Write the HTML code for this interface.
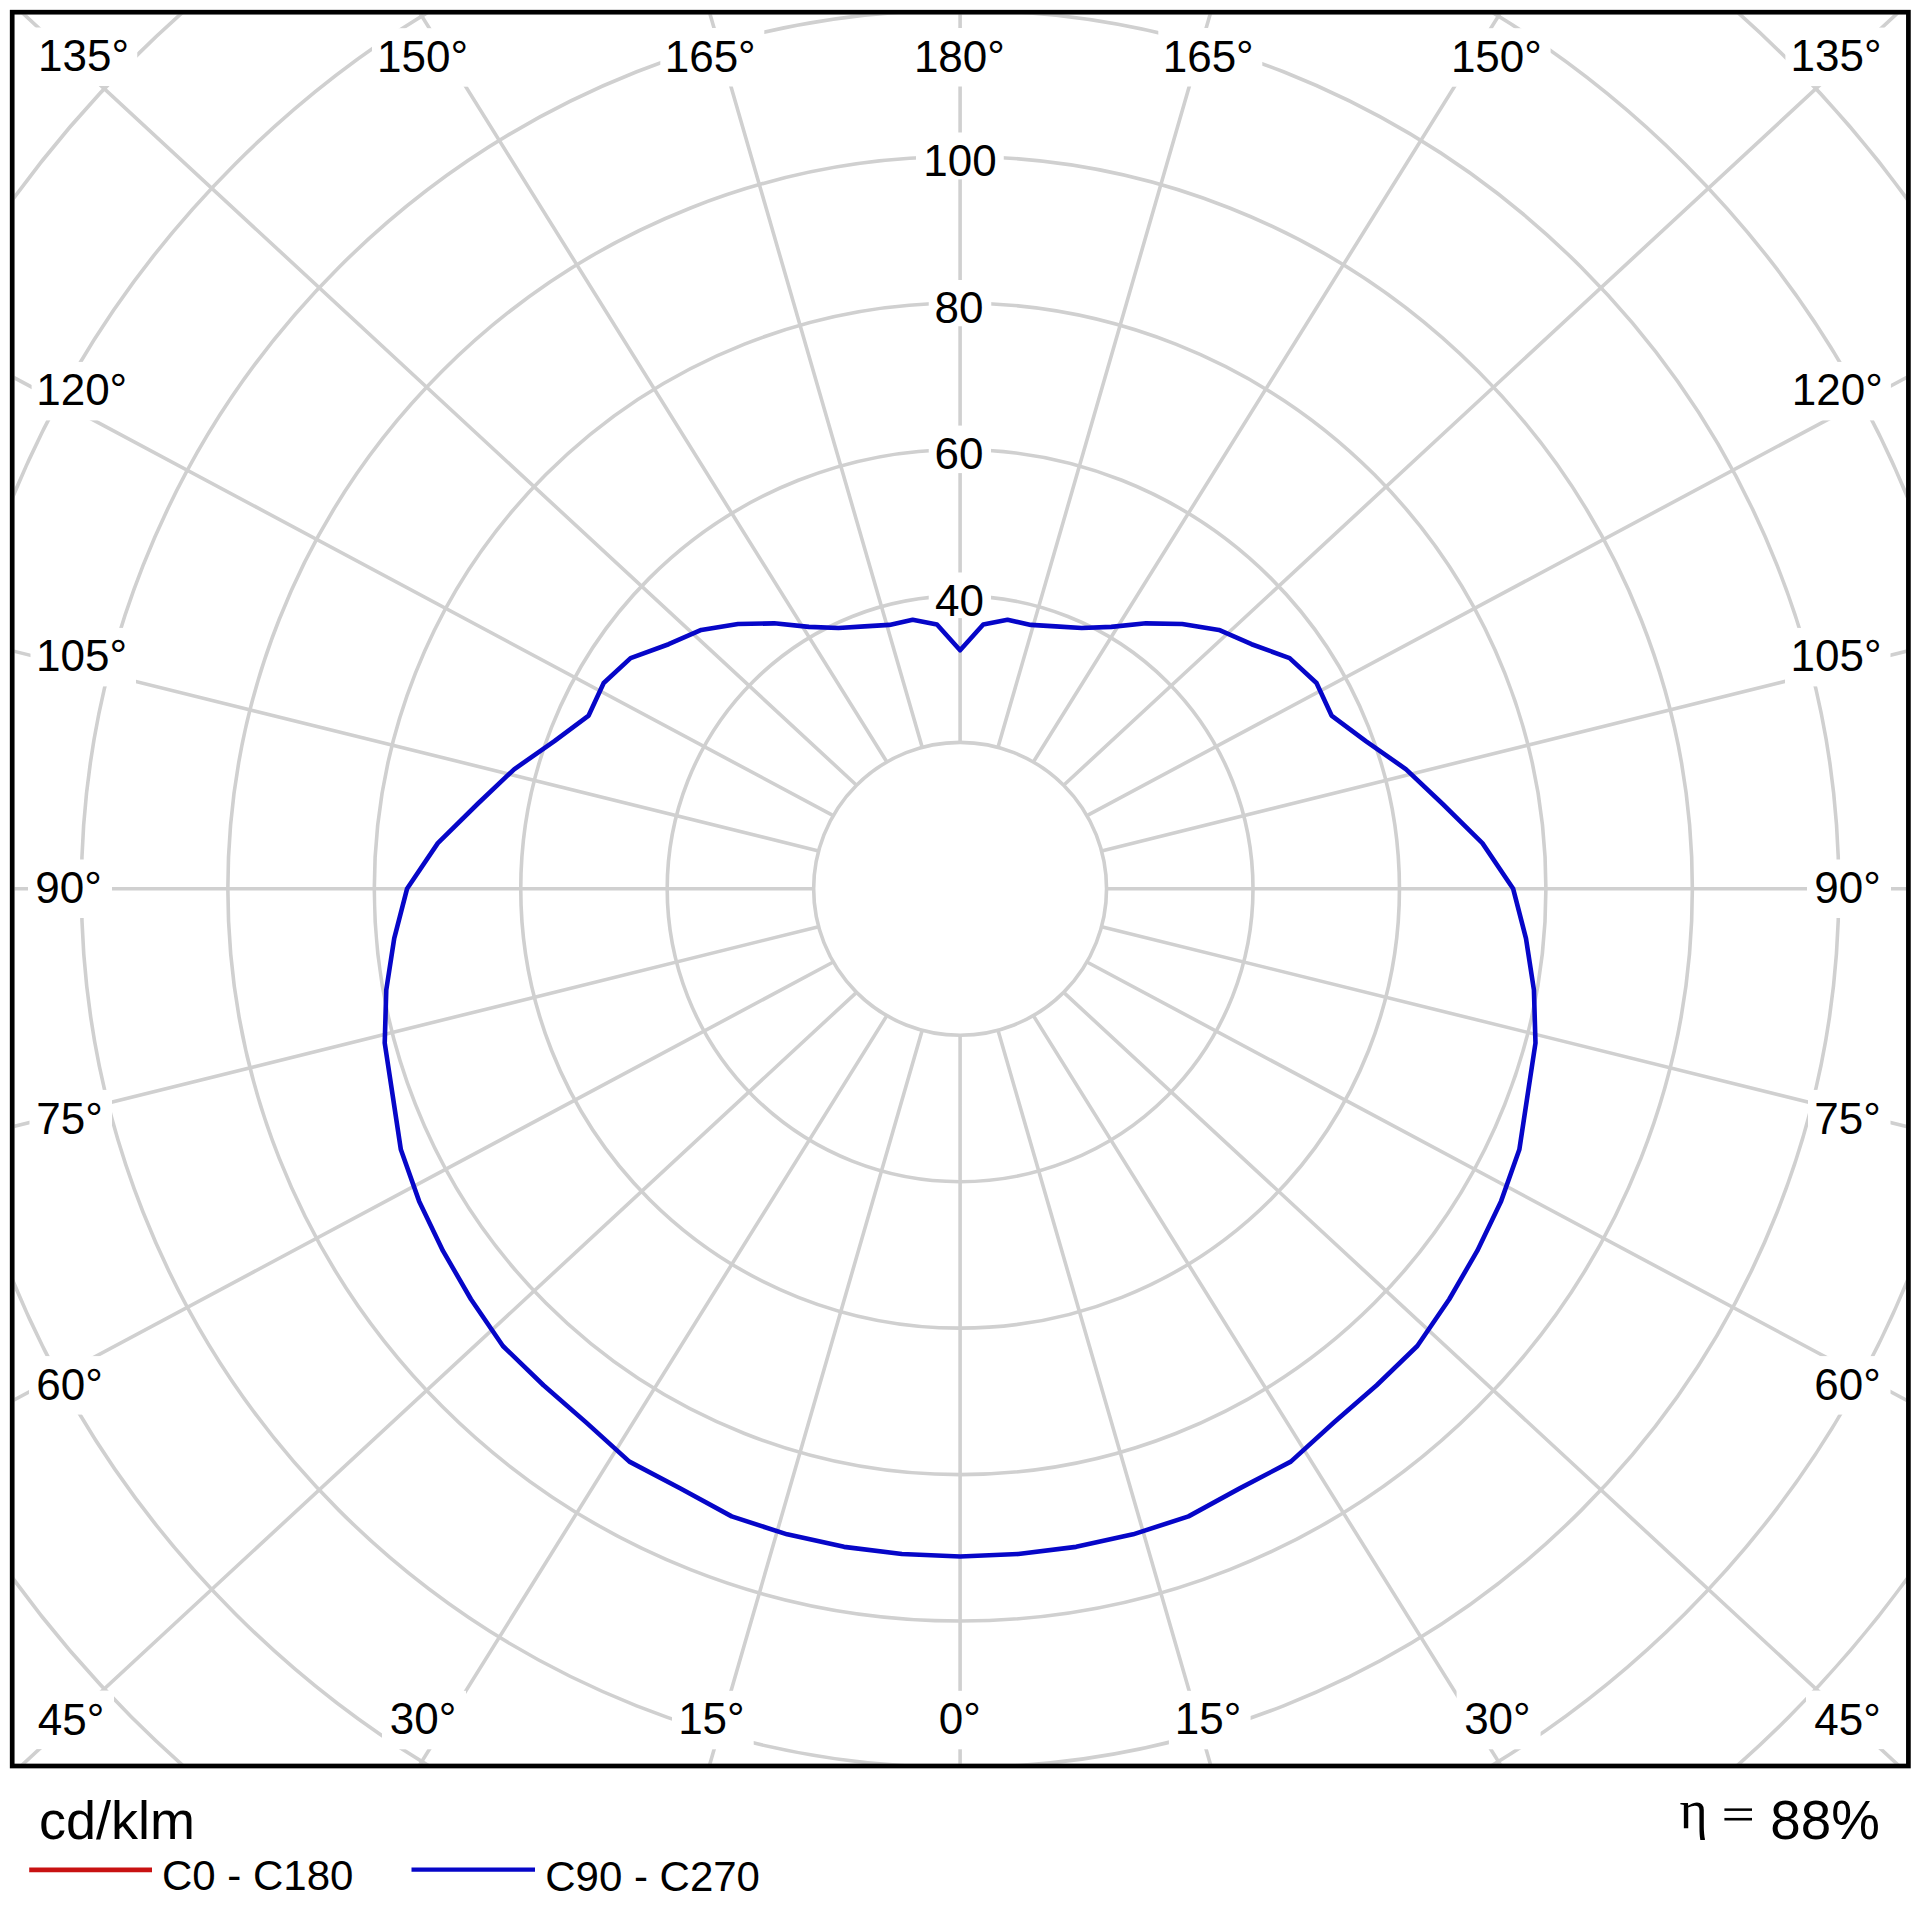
<!DOCTYPE html><html><head><meta charset="utf-8"><style>html,body{margin:0;padding:0;background:#fff;}svg{display:block;}</style></head><body>
<svg width="1920" height="1920" viewBox="0 0 1920 1920" font-family="Liberation Sans, sans-serif">
<rect width="1920" height="1920" fill="#fff"/>
<defs><clipPath id="c"><rect x="14.55" y="14.55" width="1891.5" height="1749.1"/></clipPath></defs>
<g clip-path="url(#c)" fill="none" stroke="#d0d0d0" stroke-width="3.6">
<circle cx="960.1" cy="888.8" r="146.45"/>
<circle cx="960.1" cy="888.8" r="292.9"/>
<circle cx="960.1" cy="888.8" r="439.35"/>
<circle cx="960.1" cy="888.8" r="585.8"/>
<circle cx="960.1" cy="888.8" r="732.25"/>
<circle cx="960.1" cy="888.8" r="878.7"/>
<circle cx="960.1" cy="888.8" r="1025.15"/>
<circle cx="960.1" cy="888.8" r="1171.6"/>
<circle cx="960.1" cy="888.8" r="1318.05"/>
<path d="M960.1 1035.25L960.1 2635.25M998 1030.26L1442.77 2567.2M1033.33 1015.63L1879.9 2373.32M1063.66 992.36L2237.67 2079.41M1086.93 962.02L2497.96 1716.34M1101.56 926.7L2654.48 1311.99M1106.55 888.8L2706.55 888.8M1101.56 850.9L2654.48 465.61M1086.93 815.58L2497.96 61.26M1063.66 785.24L2237.67 -301.81M1033.33 761.97L1879.9 -595.72M998 747.34L1442.77 -789.6M960.1 742.35L960.1 -857.65M922.2 747.34L477.43 -789.6M886.88 761.97L40.3 -595.72M856.54 785.24L-317.47 -301.81M833.27 815.57L-577.76 61.26M818.64 850.9L-734.28 465.61M813.65 888.8L-786.35 888.8M818.64 926.7L-734.28 1311.99M833.27 962.02L-577.76 1716.34M856.54 992.36L-317.47 2079.41M886.88 1015.63L40.3 2373.32M922.2 1030.26L477.43 2567.2"/>
</g>
<g fill="#fff">
<rect x="33.25" y="27.5" width="104" height="58.5"/>
<rect x="372" y="28.2" width="105" height="58.5"/>
<rect x="660.3" y="28" width="104" height="58.5"/>
<rect x="908.7" y="28" width="105.3" height="58.5"/>
<rect x="1158.3" y="28" width="104" height="58.5"/>
<rect x="1445.6" y="28.2" width="105" height="58.5"/>
<rect x="1785.4" y="27.6" width="104.5" height="58.5"/>
<rect x="31.6" y="361.9" width="103.9" height="58.5"/>
<rect x="30.5" y="627.9" width="105.5" height="58.5"/>
<rect x="28" y="859.5" width="84" height="58.5"/>
<rect x="29.5" y="1089.9" width="82.5" height="58.5"/>
<rect x="29" y="1356.1" width="83" height="58.5"/>
<rect x="29.5" y="1690.6" width="84.5" height="58.5"/>
<rect x="1787" y="361.9" width="103.9" height="58.5"/>
<rect x="1785" y="627.9" width="105.5" height="58.5"/>
<rect x="1807" y="859.5" width="84" height="58.5"/>
<rect x="1808" y="1089.9" width="82.5" height="58.5"/>
<rect x="1807.5" y="1356.1" width="83" height="58.5"/>
<rect x="1806" y="1690.6" width="84.5" height="58.5"/>
<rect x="382" y="1690.8" width="84" height="58.5"/>
<rect x="672" y="1690.8" width="81.7" height="58.5"/>
<rect x="930.3" y="1690.8" width="60" height="58.5"/>
<rect x="1168.9" y="1690.8" width="81.7" height="58.5"/>
<rect x="1456.6" y="1690.8" width="84" height="58.5"/>
<rect x="916" y="132.5" width="87.75" height="46.9"/>
<rect x="928.75" y="280" width="62.5" height="46.25"/>
<rect x="928.75" y="425.6" width="62.25" height="47.5"/>
<rect x="928.75" y="572.5" width="62.25" height="45.6"/>
<rect x="0" y="0" width="0" height="0"/>
<rect x="0" y="0" width="0" height="0"/>
<rect x="0" y="0" width="0" height="0"/>
<rect x="0" y="0" width="0" height="0"/>
<rect x="0" y="0" width="0" height="0"/>
</g>
<path d="M960.1 1556.5L901.9 1554.06L844.07 1546.85L787.12 1534.36L731.68 1516.38L680.5 1488.4L629.38 1461.62L586.34 1422.59L543.52 1385.26L502.91 1345.99L470.96 1299.23L442.99 1250.89L419.1 1201.14L400.85 1149.58L392.66 1095.33L384.72 1042.97L386.27 989.98L394.23 938.31L407.02 888.8L437.83 843.11L477.78 803.75L514.11 769.3L554.41 741.14L588.63 715.58L603.69 683.02L630.59 658.08L668.64 644.23L701.26 629.96L737.97 624.07L774.21 623.33L808.89 626.9L838.5 628.02L864.57 626.34L889.39 624.89L912.67 619.8L936.97 624.46L960.1 650.3L983.23 624.46L1007.53 619.8L1030.81 624.89L1055.63 626.34L1081.7 628.02L1111.31 626.9L1145.99 623.33L1182.23 624.07L1218.94 629.96L1251.56 644.23L1289.61 658.08L1316.51 683.02L1331.57 715.58L1365.79 741.14L1406.09 769.3L1442.42 803.75L1482.37 843.11L1513.18 888.8L1525.97 938.31L1533.93 989.98L1535.48 1042.97L1527.54 1095.33L1519.35 1149.58L1501.1 1201.14L1477.21 1250.89L1449.24 1299.23L1417.29 1345.99L1376.68 1385.26L1333.86 1422.59L1290.82 1461.62L1239.7 1488.4L1188.52 1516.38L1133.08 1534.36L1076.13 1546.85L1018.3 1554.06L960.1 1556.5Z" fill="none" stroke="#0606c8" stroke-width="4.6" stroke-linejoin="round"/>
<rect x="12.2" y="12.2" width="1896.2" height="1753.8" fill="none" stroke="#000" stroke-width="4.7"/>
<g fill="#000">
<text x="83.5" y="71.25" font-size="44" text-anchor="middle" font-family="Liberation Sans, sans-serif">135°</text>
<text x="422.5" y="71.8" font-size="44" text-anchor="middle" font-family="Liberation Sans, sans-serif">150°</text>
<text x="710.2" y="71.5" font-size="44" text-anchor="middle" font-family="Liberation Sans, sans-serif">165°</text>
<text x="959.4" y="71.5" font-size="44" text-anchor="middle" font-family="Liberation Sans, sans-serif">180°</text>
<text x="1208.2" y="71.5" font-size="44" text-anchor="middle" font-family="Liberation Sans, sans-serif">165°</text>
<text x="1496.4" y="71.8" font-size="44" text-anchor="middle" font-family="Liberation Sans, sans-serif">150°</text>
<text x="1836.1" y="71.4" font-size="44" text-anchor="middle" font-family="Liberation Sans, sans-serif">135°</text>
<text x="81.7" y="405.1" font-size="44" text-anchor="middle" font-family="Liberation Sans, sans-serif">120°</text>
<text x="81.5" y="671.35" font-size="44" text-anchor="middle" font-family="Liberation Sans, sans-serif">105°</text>
<text x="68.5" y="902.88" font-size="44" text-anchor="middle" font-family="Liberation Sans, sans-serif">90°</text>
<text x="69.5" y="1133.6" font-size="44" text-anchor="middle" font-family="Liberation Sans, sans-serif">75°</text>
<text x="69.5" y="1399.9" font-size="44" text-anchor="middle" font-family="Liberation Sans, sans-serif">60°</text>
<text x="71" y="1734.65" font-size="44" text-anchor="middle" font-family="Liberation Sans, sans-serif">45°</text>
<text x="1837.3" y="405.35" font-size="44" text-anchor="middle" font-family="Liberation Sans, sans-serif">120°</text>
<text x="1836" y="671.35" font-size="44" text-anchor="middle" font-family="Liberation Sans, sans-serif">105°</text>
<text x="1847.5" y="902.88" font-size="44" text-anchor="middle" font-family="Liberation Sans, sans-serif">90°</text>
<text x="1847.5" y="1133.6" font-size="44" text-anchor="middle" font-family="Liberation Sans, sans-serif">75°</text>
<text x="1847.5" y="1399.9" font-size="44" text-anchor="middle" font-family="Liberation Sans, sans-serif">60°</text>
<text x="1847.5" y="1734.65" font-size="44" text-anchor="middle" font-family="Liberation Sans, sans-serif">45°</text>
<text x="423" y="1734.45" font-size="44" text-anchor="middle" font-family="Liberation Sans, sans-serif">30°</text>
<text x="711.4" y="1734.45" font-size="44" text-anchor="middle" font-family="Liberation Sans, sans-serif">15°</text>
<text x="959.7" y="1734.45" font-size="44" text-anchor="middle" font-family="Liberation Sans, sans-serif">0°</text>
<text x="1208" y="1734.45" font-size="44" text-anchor="middle" font-family="Liberation Sans, sans-serif">15°</text>
<text x="1497.4" y="1734.45" font-size="44" text-anchor="middle" font-family="Liberation Sans, sans-serif">30°</text>
<text x="960" y="175.62" font-size="44" text-anchor="middle" font-family="Liberation Sans, sans-serif">100</text>
<text x="959.1" y="323.1" font-size="44" text-anchor="middle" font-family="Liberation Sans, sans-serif">80</text>
<text x="959.1" y="469.15" font-size="44" text-anchor="middle" font-family="Liberation Sans, sans-serif">60</text>
<text x="959.6" y="615.6" font-size="44" text-anchor="middle" font-family="Liberation Sans, sans-serif">40</text>
<text x="117" y="1839.4" font-size="54" text-anchor="middle" font-family="Liberation Sans, sans-serif">cd/klm</text>
<text x="257.7" y="1890.2" font-size="42" text-anchor="middle" font-family="Liberation Sans, sans-serif">C0 - C180</text>
<text x="652.6" y="1891.15" font-size="42" text-anchor="middle" font-family="Liberation Sans, sans-serif">C90 - C270</text>
<text x="1693.5" y="1827.55" font-size="54" text-anchor="middle" font-family="Liberation Serif, serif">η</text>
<text x="1825.1" y="1839.2" font-size="54.7" text-anchor="middle" font-family="Liberation Sans, sans-serif">88%</text>
</g>
<rect x="1724.4" y="1808.4" width="27.6" height="2.5" fill="#000"/>
<rect x="1724.4" y="1817.9" width="27.6" height="2.6" fill="#000"/>
<line x1="29.2" y1="1869.9" x2="152" y2="1869.9" stroke="#c81212" stroke-width="4.6"/>
<line x1="411.5" y1="1869.6" x2="535" y2="1869.6" stroke="#0606c8" stroke-width="4.2"/>
</svg></body></html>
